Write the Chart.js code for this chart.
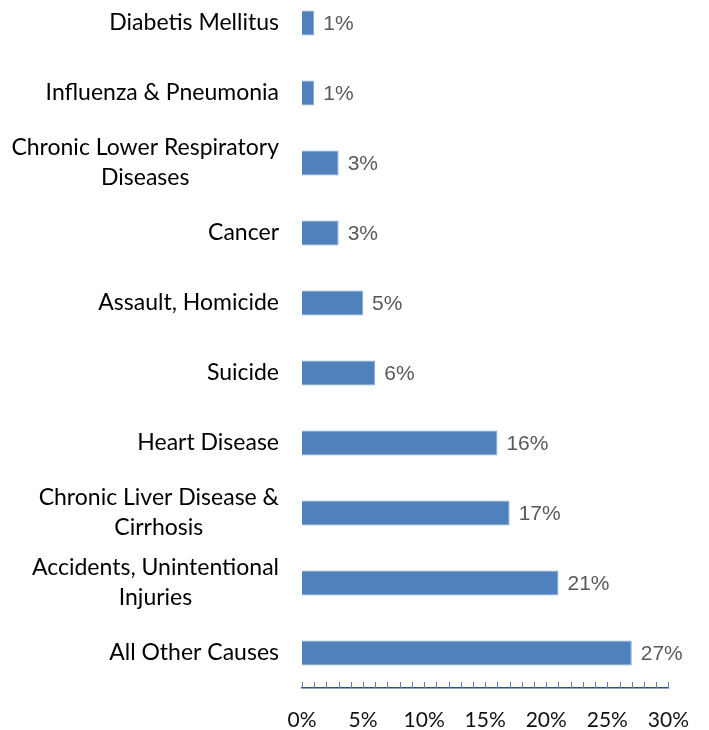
<!DOCTYPE html>
<html>
<head>
<meta charset="utf-8">
<script src="https://cdn.jsdelivr.net/npm/chart.js@4"></script>
<style>
  html, body { margin: 0; padding: 0; background: #fff; overflow: hidden; }
  #wrap { position: absolute; left: 0; top: -12px; width: 709px; height: 742px; }
</style>
</head>
<body>
<div id="wrap"><canvas id="c"></canvas></div>
<script>
// Causes of death, share of total (%)
const causes = [
  ['Diabetis Mellitus'],
  ['Influenza & Pneumonia'],
  ['Chronic Lower Respiratory', 'Diseases'],
  ['Cancer'],
  ['Assault, Homicide'],
  ['Suicide'],
  ['Heart Disease'],
  ['Chronic Liver Disease &', 'Cirrhosis'],
  ['Accidents, Unintentional', 'Injuries'],
  ['All Other Causes']
];
const shares = [1, 1, 3, 3, 5, 6, 16, 17, 21, 27];
const axisMin = 0;
const axisMax = 30;
const labelStep = 5;

const BAR = '#4F81BD';
const AXIS = '#2E4F82';
const CAT_FONT = '23px Lato';
const CAT_LINE = 30;

// Category names: block right-aligned against the axis, lines centred within it
const categoryLabels = {
  id: 'categoryLabels',
  afterDraw(chart) {
    const ctx = chart.ctx;
    const y = chart.scales.y;
    const right = chart.chartArea.left - 23;
    ctx.save();
    ctx.font = CAT_FONT;
    ctx.fillStyle = '#000';
    ctx.textAlign = 'center';
    ctx.textBaseline = 'middle';
    causes.forEach((lines, i) => {
      const cy = y.getPixelForValue(i);
      const w = Math.max(...lines.map(l => ctx.measureText(l).width));
      const cx = right - w / 2;
      lines.forEach((l, j) => {
        ctx.fillText(l, cx, cy + (j - (lines.length - 1) / 2) * CAT_LINE);
      });
    });
    ctx.restore();
  }
};

// Percentage next to the end of each bar
const valueLabels = {
  id: 'valueLabels',
  afterDatasetsDraw(chart) {
    const ctx = chart.ctx;
    const meta = chart.getDatasetMeta(0);
    ctx.save();
    ctx.font = '21px "Liberation Sans", Arial, sans-serif';
    ctx.fillStyle = '#595959';
    ctx.textAlign = 'left';
    ctx.textBaseline = 'middle';
    meta.data.forEach((bar, i) => {
      ctx.fillText(shares[i] + '%', bar.x + 9, bar.y + 1);
    });
    ctx.restore();
  }
};

// Small inward tick marks at every unit along the value axis
const innerTicks = {
  id: 'innerTicks',
  afterDraw(chart) {
    const ctx = chart.ctx;
    const x = chart.scales.x;
    const bottom = chart.chartArea.bottom;
    ctx.save();
    ctx.strokeStyle = '#5E7FAF';
    ctx.lineWidth = 1;
    x.ticks.forEach(t => {
      const px = Math.round(x.getPixelForValue(t.value)) + 0.5;
      ctx.beginPath();
      ctx.moveTo(px, bottom - 6);
      ctx.lineTo(px, bottom);
      ctx.stroke();
    });
    ctx.restore();
  }
};

new Chart(document.getElementById('c'), {
  type: 'bar',
  data: {
    labels: causes.map(l => l.join(' ')),
    datasets: [{
      data: shares,
      backgroundColor: BAR,
      borderColor: '#86A7D2',
      borderWidth: 1,
      categoryPercentage: 1,
      barPercentage: 0.36
    }]
  },
  options: {
    indexAxis: 'y',
    responsive: true,
    maintainAspectRatio: false,
    animation: false,
    layout: { padding: { top: 0, left: 0, right: 39, bottom: 0 } },
    plugins: { legend: { display: false }, tooltip: { enabled: false } },
    scales: {
      x: {
        min: axisMin,
        max: axisMax,
        grid: { display: false, drawTicks: false },
        border: { display: true, color: AXIS, width: 1.5 },
        ticks: {
          stepSize: 1,
          autoSkip: false,
          maxRotation: 0,
          padding: 20,
          color: '#111',
          font: { family: 'Lato', size: 21 },
          callback: v => (v % labelStep === 0 ? v + '%' : '')
        },
        afterFit: s => { s.height = 42; }
      },
      y: {
        grid: { display: false, drawTicks: false },
        border: { display: false },
        ticks: { display: false },
        afterFit: s => { s.width = 302; }
      }
    }
  },
  plugins: [categoryLabels, valueLabels, innerTicks]
});
</script>
</body>
</html>
